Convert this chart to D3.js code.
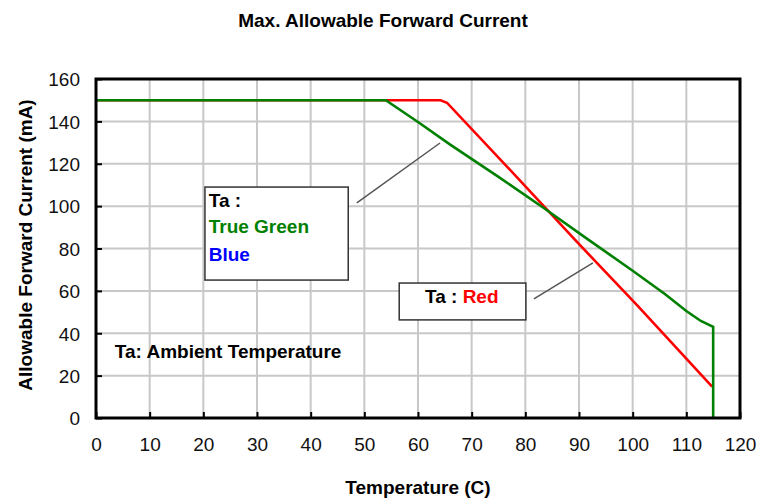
<!DOCTYPE html>
<html>
<head>
<meta charset="utf-8">
<script src="https://cdn.jsdelivr.net/npm/d3@7"></script>
<style>
  html, body { margin: 0; padding: 0; background: #fff; }
  svg { display: block; }
  text { font-family: "Liberation Sans", Arial, sans-serif; }
</style>
</head>
<body>
<svg id="chart" width="760" height="500"></svg>
<script>
// ---- data ----
const xTicks = [0, 10, 20, 30, 40, 50, 60, 70, 80, 90, 100, 110, 120];
const yTicks = [0, 20, 40, 60, 80, 100, 120, 140, 160];

const greenTemp    = [0, 54, 60, 66, 75, 83.5, 91, 100, 106, 110, 112.7, 115, 115];
const greenCurrent = [150, 150, 139.7, 129, 113.8, 99, 85.5, 69.5, 58.5, 50.5, 45.8, 43, 0];

const redTemp    = [0, 54, 64.2, 65.4, 78.5, 89.1, 100.9, 114.8];
const redCurrent = [150, 150, 150, 148.8, 113.5, 84.5, 53, 14.8];

const titleText = "Max. Allowable Forward Current";
const xTitle = "Temperature (C)";
const yTitle = "Allowable Forward Current (mA)";

// ---- layout ----
const svg = d3.select("#chart");
const x = d3.scaleLinear().domain([0, 120]).range([96, 740]);
const y = d3.scaleLinear().domain([0, 160]).range([418, 79]);

// grid
svg.append("g").selectAll("line.v").data(xTicks.slice(1, -1)).join("line")
  .attr("x1", d => x(d)).attr("x2", d => x(d))
  .attr("y1", y(160)).attr("y2", y(0))
  .attr("stroke", "#c8c8c8").attr("stroke-width", 2);
svg.append("g").selectAll("line.h").data(yTicks.slice(1, -1)).join("line")
  .attr("x1", x(0)).attr("x2", x(120))
  .attr("y1", d => y(d)).attr("y2", d => y(d))
  .attr("stroke", "#c8c8c8").attr("stroke-width", 2);

// axes (ticks inside)
const xAxis = d3.axisBottom(x).tickValues(xTicks).tickSizeInner(-6).tickSizeOuter(0).tickPadding(20);
const yAxis = d3.axisLeft(y).tickValues(yTicks).tickSizeInner(-6).tickSizeOuter(0).tickPadding(16);
const gx = svg.append("g").attr("transform", `translate(0,${y(0)})`).call(xAxis);
const gy = svg.append("g").attr("transform", `translate(${x(0)},0)`).call(yAxis);
[gx, gy].forEach(g => {
  g.select(".domain").remove();
  g.selectAll(".tick line").attr("stroke", "#000").attr("stroke-width", 2);
  g.selectAll(".tick text").attr("fill", "#111").style("font-size", "19px");
});
gy.selectAll(".tick text").attr("dy", "0.36em");
gx.selectAll(".tick text").attr("dy", "0.71em");

// annotation text/boxes (under the curves)
const ann = svg.append("g");
ann.append("rect")
  .attr("x", x(20.3)).attr("y", y(109))
  .attr("width", x(47.0) - x(20.3)).attr("height", y(65.1) - y(109))
  .attr("fill", "#fff").attr("stroke", "#333").attr("stroke-width", 1.5);
ann.append("text").attr("x", x(21.0)).attr("y", y(99.6)).text("Ta :")
  .attr("fill", "#000").style("font-size", "19px").style("font-weight", "bold");
ann.append("text").attr("x", x(21.0)).attr("y", y(87.3)).text("True Green")
  .attr("fill", "#008000").style("font-size", "19px").style("font-weight", "bold");
ann.append("text").attr("x", x(21.0)).attr("y", y(74.1)).text("Blue")
  .attr("fill", "#0000ff").style("font-size", "19px").style("font-weight", "bold");

ann.append("rect")
  .attr("x", x(56.5)).attr("y", y(63.7))
  .attr("width", x(80.1) - x(56.5)).attr("height", y(46.3) - y(63.7))
  .attr("fill", "#fff").attr("stroke", "#333").attr("stroke-width", 1.5);
const t2 = ann.append("text").attr("x", x(61.3)).attr("y", y(54.3))
  .style("font-size", "19px").style("font-weight", "bold");
t2.append("tspan").attr("fill", "#000").text("Ta : ");
t2.append("tspan").attr("fill", "#ff0000").text("Red");

ann.append("text").attr("x", x(3.5)).attr("y", y(28.3)).text("Ta: Ambient Temperature")
  .attr("fill", "#000").style("font-size", "19px").style("font-weight", "bold");

// leader lines
ann.append("line").attr("x1", x(48.6)).attr("y1", y(101.5)).attr("x2", x(64.1)).attr("y2", y(129.8))
  .attr("stroke", "#555").attr("stroke-width", 1.5);
ann.append("line").attr("x1", x(81.6)).attr("y1", y(56.2)).attr("x2", x(92.6)).attr("y2", y(73.2))
  .attr("stroke", "#555").attr("stroke-width", 1.5);

// curves
const line = d3.line().x(d => x(d[0])).y(d => y(d[1]));
svg.append("path").datum(d3.zip(redTemp, redCurrent)).attr("d", line)
  .attr("fill", "none").attr("stroke", "#ff0000").attr("stroke-width", 2.6);
svg.append("path").datum(d3.zip(greenTemp, greenCurrent)).attr("d", line)
  .attr("fill", "none").attr("stroke", "#008000").attr("stroke-width", 2.6);

// frame
svg.append("rect").attr("x", x(0)).attr("y", y(160))
  .attr("width", x(120) - x(0)).attr("height", y(0) - y(160))
  .attr("fill", "none").attr("stroke", "#000").attr("stroke-width", 3);

// titles
svg.append("text").attr("x", 383).attr("y", 27).attr("text-anchor", "middle")
  .style("font-size", "19px").style("font-weight", "bold").attr("fill", "#000").text(titleText);
svg.append("text").attr("x", 418).attr("y", 494).attr("text-anchor", "middle")
  .style("font-size", "19px").style("font-weight", "bold").attr("fill", "#000").text(xTitle);
svg.append("text").attr("transform", "translate(32,245) rotate(-90)").attr("text-anchor", "middle")
  .style("font-size", "19px").style("font-weight", "bold").attr("fill", "#000").text(yTitle);
</script>
</body>
</html>
